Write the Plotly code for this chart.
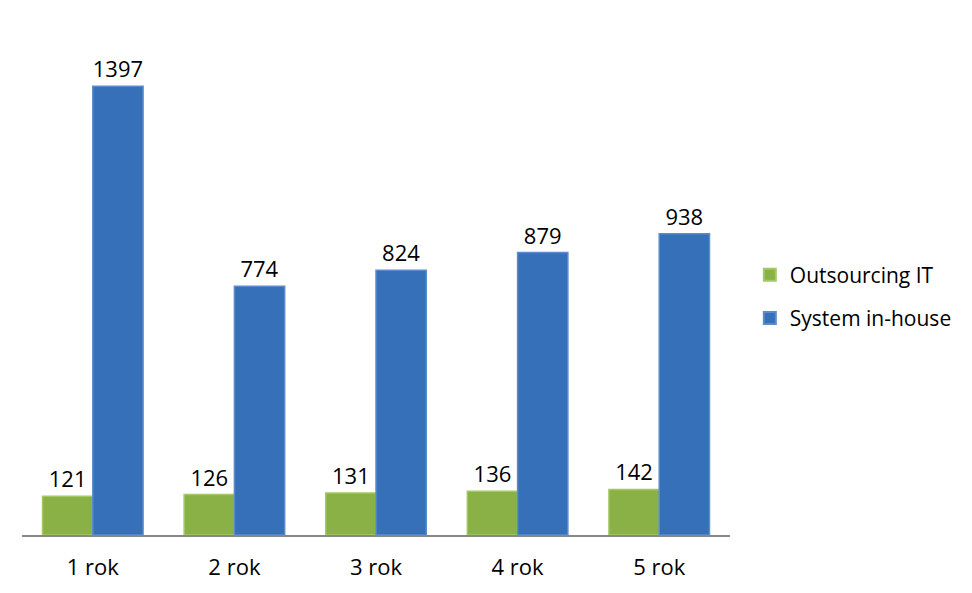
import plotly.graph_objects as go

categories = ["1 rok", "2 rok", "3 rok", "4 rok", "5 rok"]
outsourcing = [121, 126, 131, 136, 142]
inhouse = [1397, 774, 824, 879, 938]

font_family = "Open Sans, Noto Sans, sans-serif"
fsize = 22

fig = go.Figure()
fig.add_trace(go.Bar(
    x=categories, y=outsourcing, name="Outsourcing IT", legendgroup="a",
    marker=dict(color="#8AB146", line=dict(color="#A3C866", width=1.5)),
    text=outsourcing, textposition="outside", cliponaxis=False,
    textfont=dict(size=fsize, color="black", family=font_family),
))
fig.add_trace(go.Bar(
    x=categories, y=inhouse, name="System in-house", legendgroup="b",
    marker=dict(color="#3570B8", line=dict(color="#5A8CCB", width=1.5)),
    text=inhouse, textposition="outside", cliponaxis=False,
    textfont=dict(size=fsize, color="black", family=font_family),
))

fig.update_layout(
    width=964, height=585,
    margin=dict(l=14, r=242, t=13, b=58),
    paper_bgcolor="white", plot_bgcolor="white",
    barmode="group", bargap=0.29, bargroupgap=0,
    font=dict(family=font_family, size=fsize, color="black"),
    showlegend=True,
    legend=dict(x=1.028, y=0.464, xanchor="left", yanchor="middle",
                font=dict(size=21), itemsizing="constant", itemwidth=30,
                tracegroupgap=13, traceorder="grouped"),
    xaxis=dict(showline=True, linecolor="#878787", linewidth=1.5,
               ticks="", showgrid=False, tickfont=dict(size=fsize),
               ticklabelstandoff=12),
    yaxis=dict(range=[0, 1600], visible=False, showgrid=False),
)
fig.update_traces(textangle=0)

fig.write_html("out.html")
